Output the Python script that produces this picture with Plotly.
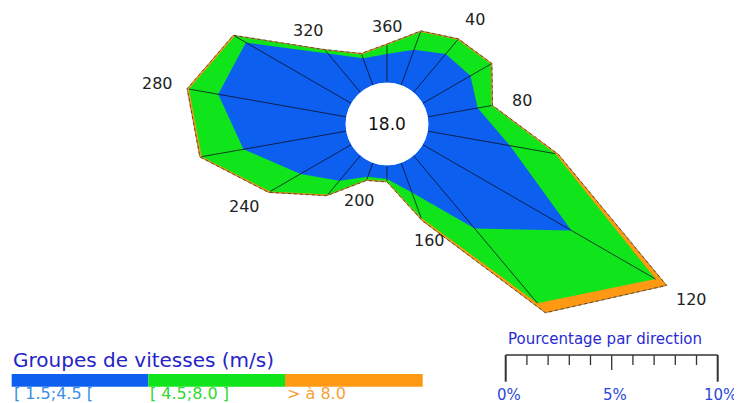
import numpy as np
import plotly.graph_objects as go

# ---------------- data (percent of observations per direction) ----------------
directions = [0, 20, 40, 60, 80, 100, 120, 140, 160, 180, 200, 220, 240, 260, 280, 300, 320, 340]
blue_pct = [1.37, 1.79, 2.38, 2.61, 2.41, 3.96, 8.11, 4.50, 1.51, 0.66, 0.71, 1.56, 2.78, 4.94, 6.15, 5.75, 2.41, 1.37]
green_pct = [0.42, 0.90, 0.88, 1.11, 0.66, 2.17, 4.58, 4.60, 1.27, 0.09, 0.14, 0.85, 1.65, 2.00, 1.40, 0.61, 0.19, 0.19]
orange_pct = [0.05, 0.05, 0.05, 0.06, 0.05, 0.14, 0.61, 0.59, 0.14, 0.05, 0.05, 0.07, 0.09, 0.09, 0.09, 0.08, 0.05, 0.05]
calm_pct = 18.0
group_labels = ["[ 1.5;4.5 [", "[ 4.5;8.0 ]", "> à 8.0"]
direction_labels = [360, 40, 80, 120, 160, 200, 240, 280, 320]
scale_ticks = [0, 5, 10]

# ---------------- layout constants (window pixel coordinates) ----------------
WIN_W, WIN_H = 742, 403
OFF = 8                       # default page body margin
W, H = WIN_W - OFF, WIN_H - OFF
PX = 21.2                     # pixels per percent
CX, CY = 387, 124             # rose centre (window px)
HOLE = 41 / PX                # hole radius in percent units
FONT = "DejaVu Sans"
C_BLUE, C_GREEN, C_ORANGE = "#0d5ff0", "#10e51c", "#ff9812"

th = np.radians(directions)
r_blue = HOLE + np.array(blue_pct)
r_green = r_blue + np.array(green_pct)
r_orange = r_green + np.array(orange_pct)


def ring(r):
    x = r * np.sin(th)
    y = r * np.cos(th)
    return np.append(x, x[0]), np.append(y, y[0])


fig = go.Figure()
for r, col, lc in [(r_orange, C_ORANGE, "rgba(90,60,20,0.75)"),
                   (r_green, C_GREEN, "rgba(0,0,0,0)"),
                   (r_blue, C_BLUE, "rgba(0,0,0,0)")]:
    x, y = ring(r)
    fig.add_trace(go.Scatter(x=x, y=y, mode="lines", fill="toself", fillcolor=col,
                             line=dict(color=lc, width=1, dash="dot"),
                             hoverinfo="skip", showlegend=False))

# radial spokes
sx, sy = [], []
for t, r in zip(th, r_green):
    sx += [HOLE * np.sin(t), r * np.sin(t), None]
    sy += [HOLE * np.cos(t), r * np.cos(t), None]
fig.add_trace(go.Scatter(x=sx, y=sy, mode="lines", line=dict(color="rgba(10,10,30,0.85)", width=0.9),
                         hoverinfo="skip", showlegend=False))

# outer outline (thin dark)
x, y = ring(r_orange)
fig.add_trace(go.Scatter(x=x, y=y, mode="lines", line=dict(color="rgba(60,40,10,0.55)", width=0.8),
                         hoverinfo="skip", showlegend=False))

# hole
fig.add_shape(type="circle", xref="x", yref="y", x0=-HOLE, x1=HOLE, y0=-HOLE, y1=HOLE,
              fillcolor="white", line=dict(color="white", width=1), layer="above")
fig.add_annotation(x=0, y=0, xref="x", yref="y", text=f"{calm_pct:.1f}", showarrow=False,
                   font=dict(family=FONT, size=17, color="#111"))

# direction labels
for lab in direction_labels:
    d = lab % 360
    i = directions.index(d)
    t = th[i]
    pad = (17 + 13 * abs(np.sin(t))) / PX
    rr = r_orange[i] + pad
    fig.add_annotation(x=rr * np.sin(t), y=rr * np.cos(t), xref="x", yref="y", text=str(lab),
                       showarrow=False, font=dict(family=FONT, size=16, color="#222"))


# ---------------- speed-group legend ----------------
def px_x(p):
    return (p - OFF) / W


def px_y(p):
    return 1 - (p - OFF) / H


fig.add_annotation(x=px_x(11), y=px_y(359.5), xref="paper", yref="paper", xanchor="left", yanchor="middle",
                   text="Groupes de vitesses (m/s)", showarrow=False,
                   font=dict(family=FONT, size=20, color="#2424c8"))
bar_x = [11.7, 148.3, 285, 422.7]
text_cols = ["#3a8ee6", "#2ed82e", "#f4a23a"]
for k, (col, tc, lab) in enumerate(zip([C_BLUE, C_GREEN, C_ORANGE], text_cols, group_labels)):
    fig.add_shape(type="rect", xref="paper", yref="paper", x0=px_x(bar_x[k]), x1=px_x(bar_x[k + 1]),
                  y0=px_y(386.7), y1=px_y(374), fillcolor=col, line=dict(width=0))
    fig.add_annotation(x=px_x(bar_x[k]), y=px_y(393.5), xref="paper", yref="paper", xanchor="left",
                       yanchor="middle", text=lab, showarrow=False,
                       font=dict(family=FONT, size=16, color=tc))

# ---------------- percentage scale bar (in data units) ----------------
x0 = (505.7 - CX) / PX
yb = (CY - 355) / PX
fig.add_annotation(x=px_x(506), y=px_y(338.5), xref="paper", yref="paper", xanchor="left", yanchor="middle",
                   text="Pourcentage par direction", showarrow=False,
                   font=dict(family=FONT, size=15, color="#2a2ad0"))
fig.add_shape(type="line", xref="x", yref="y", x0=x0, x1=x0 + scale_ticks[-1], y0=yb, y1=yb,
              line=dict(color="#333", width=1.5))
for k in range(scale_ticks[-1] + 1):
    if k in (scale_ticks[0], scale_ticks[-1]):
        ln, w = 26.7, 2
    elif k == scale_ticks[1]:
        ln, w = 15, 1.3
    else:
        ln, w = 10, 1.3
    fig.add_shape(type="line", xref="x", yref="y", x0=x0 + k, x1=x0 + k, y0=yb, y1=yb - ln / PX,
                  line=dict(color="#333", width=w))
for k in scale_ticks:
    fig.add_annotation(x=x0 + k + 0.15, y=(CY - 394.5) / PX, xref="x", yref="y", text=f"{k}%",
                       showarrow=False, font=dict(family=FONT, size=15, color="#2a48d8"))

fig.update_layout(
    width=W, height=H, margin=dict(l=0, r=0, t=0, b=0),
    paper_bgcolor="white", plot_bgcolor="white", showlegend=False,
    xaxis=dict(range=[-(CX - OFF) / PX, (WIN_W - CX) / PX], visible=False, fixedrange=True),
    yaxis=dict(range=[-(WIN_H - CY) / PX, (CY - OFF) / PX], visible=False, fixedrange=True),
)
fig.write_html("out.html")
